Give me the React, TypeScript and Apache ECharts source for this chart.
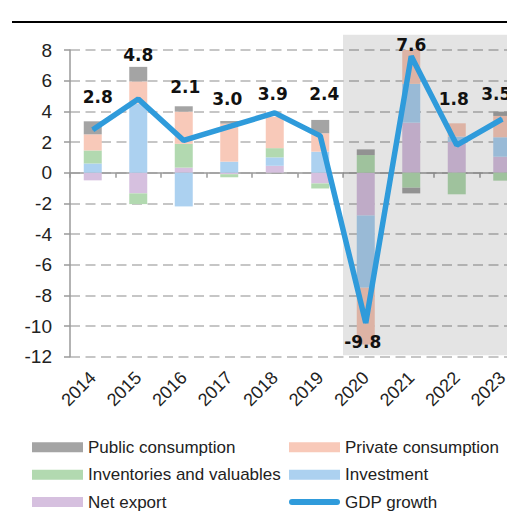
import React, { useEffect, useRef } from "react";
import * as echarts from "echarts";

const years = ["2014", "2015", "2016", "2017", "2018", "2019", "2020", "2021", "2022", "2023"];
const netExport = [-0.5, -1.35, 0.33, -0.1, 0.45, -0.7, -2.8, 3.26, 2.0, 1.04];
const investment = [0.6, 4.5, -2.2, 0.72, 0.55, 1.37, -4.7, 2.53, 0.35, 1.27];
const inventories = [0.85, -0.7, 1.55, -0.2, 0.6, -0.33, 1.15, -0.98, -1.41, -0.52];
const privateCons = [1.05, 1.45, 2.1, 2.48, 2.05, 1.2, -3.7, 2.26, 0.87, 1.39];
const publicCons = [0.85, 0.95, 0.35, 0.17, 0, 0.87, 0.37, -0.37, 0, 0.28];
const gdpGrowth = [2.8, 4.8, 2.1, 3.0, 3.9, 2.4, -9.8, 7.6, 1.8, 3.5];
const yTicks = { min: -12, max: 8, interval: 2 };
const shadedFrom = "2020";

// label placement tweaks (style, not data): shift of each label from its default top position
const labelOffsets: number[][] = [
  [5, -23.5], [0, -35.5], [1.5, -44.5], [-2, -18.7], [-2, -10],
  [4, -32.5], [-3, 28.5], [0, -2.2], [-3, -37], [-6, -16],
];

const SANS = "'Liberation Sans', Arial, Helvetica, sans-serif";
const COLORS = {
  public: "#a4a4a4",
  private: "#f8c9b9",
  inventories: "#b2d9b0",
  investment: "#acd1f0",
  netExport: "#d6c0df",
  gdp: "#2f9bdb",
};
const PILL = "path://M3,0 L48,0 A3,3 0 0 1 48,6 L3,6 A3,3 0 0 1 3,0 Z";

export default function App() {
  const ref = useRef<HTMLDivElement>(null);
  useEffect(() => {
    if (!ref.current) return;
    const chart = echarts.init(ref.current, undefined, { renderer: "svg" });
    const barBase = {
      type: "bar",
      stack: "total",
      barWidth: 18,
      xAxisIndex: 0,
      yAxisIndex: 0,
      z: 2,
    };
    const legendBase = {
      orient: "vertical",
      top: 438.3,
      padding: 0,
      itemWidth: 51,
      itemHeight: 10,
      itemGap: 9.4,
      selectedMode: false,
      symbolKeepAspect: true,
      textStyle: { fontSize: 17, color: "#222", fontFamily: SANS, lineHeight: 18 },
    };
    const option: any = {
      animation: false,
      backgroundColor: "#fff",
      grid: { left: 70, top: 50, right: 5, bottom: 166.3, containLabel: false },
      legend: [
        {
          ...legendBase,
          left: 32,
          data: [
            { name: "Public consumption", icon: "rect" },
            { name: "Inventories and valuables", icon: "rect" },
            { name: "Net export", icon: "rect" },
          ],
        },
        {
          ...legendBase,
          left: 289,
          data: [
            { name: "Private consumption", icon: "rect" },
            { name: "Investment", icon: "rect" },
            { name: "GDP growth", icon: PILL },
          ],
        },
      ],
      xAxis: [
        {
          type: "category",
          data: years,
          position: "bottom",
          axisLine: { show: false, onZero: false },
          axisTick: { show: false },
          splitLine: { show: false },
          axisLabel: {
            rotate: 45,
            margin: 18,
            fontSize: 18,
            color: "#222",
            fontFamily: SANS,
          },
        },
        {
          type: "category",
          data: years,
          position: "bottom",
          axisLine: { show: true, onZero: true, lineStyle: { color: "#9a9a9a", width: 1.5 } },
          axisTick: { show: true, length: 5, lineStyle: { color: "#9a9a9a", width: 1.5 } },
          axisLabel: { show: false },
          splitLine: { show: false },
        },
      ],
      yAxis: {
        type: "value",
        min: yTicks.min,
        max: yTicks.max,
        interval: yTicks.interval,
        axisLine: { show: true, lineStyle: { color: "#9a9a9a", width: 1.5 } },
        axisTick: { show: true, length: 6, lineStyle: { color: "#9a9a9a", width: 1.5 } },
        axisLabel: { margin: 18, fontSize: 19, color: "#222", fontFamily: SANS },
        splitLine: { show: true, lineStyle: { color: "#b4b4b4", width: 1.5, type: [10, 5.5] } },
      },
      series: [
        { ...barBase, name: "Net export", data: netExport, itemStyle: { color: COLORS.netExport } },
        { ...barBase, name: "Investment", data: investment, itemStyle: { color: COLORS.investment } },
        { ...barBase, name: "Inventories and valuables", data: inventories, itemStyle: { color: COLORS.inventories } },
        { ...barBase, name: "Private consumption", data: privateCons, itemStyle: { color: COLORS.private } },
        { ...barBase, name: "Public consumption", data: publicCons, itemStyle: { color: COLORS.public } },
        {
          type: "line",
          name: "GDP growth",
          xAxisIndex: 0,
          yAxisIndex: 0,
          z: 10,
          symbol: "circle",
          symbolSize: 1,
          showSymbol: true,
          lineStyle: { color: COLORS.gdp, width: 5.5 },
          itemStyle: { color: COLORS.gdp },
          label: {
            show: true,
            position: "top",
            distance: 0,
            fontFamily: "'DejaVu Sans', sans-serif",
            fontWeight: "bold",
            fontSize: 17,
            color: "#111",
            formatter: (p: any) => Number(p.value).toFixed(1),
          },
          labelLayout: (p: any) => {
            const o = labelOffsets[p.dataIndex] || [0, 0];
            return { dx: o[0], dy: o[1], hideOverlap: false };
          },
          data: gdpGrowth,
        },
      ],
      graphic: [
        {
          id: "topline",
          type: "line",
          shape: { x1: 12, y1: 22, x2: 540, y2: 22 },
          style: { stroke: "#000", lineWidth: 2.2 },
          z: 20,
        },
      ],
    };
    chart.setOption(option);

    const idx = years.indexOf(shadedFrom);
    const xa = chart.convertToPixel({ xAxisIndex: 0 }, years[idx]) as number;
    const xb = chart.convertToPixel({ xAxisIndex: 0 }, years[idx + 1]) as number;
    const left = xa - (xb - xa) / 2;
    const top = chart.convertToPixel({ yAxisIndex: 0 }, 9) as number;
    const bottom = chart.convertToPixel({ yAxisIndex: 0 }, -11.9) as number;
    chart.setOption({
      graphic: [
        {
          id: "topline",
          type: "line",
          shape: { x1: 12, y1: 22, x2: 540, y2: 22 },
          style: { stroke: "#000", lineWidth: 2.2 },
          z: 20,
        },
        {
          id: "shade",
          type: "rect",
          shape: { x: left, y: top, width: 600, height: bottom - top },
          style: { fill: "rgba(0,0,0,0.106)" },
          z: 5,
          silent: true,
        },
      ],
    });
    return () => chart.dispose();
  }, []);
  return (
    <div
      style={{
        position: "fixed",
        left: 0,
        top: 0,
        width: 507,
        height: 523,
        overflow: "hidden",
        background: "#fff",
      }}
    >
      <div ref={ref} style={{ width: 530, height: 523 }} />
    </div>
  );
}
